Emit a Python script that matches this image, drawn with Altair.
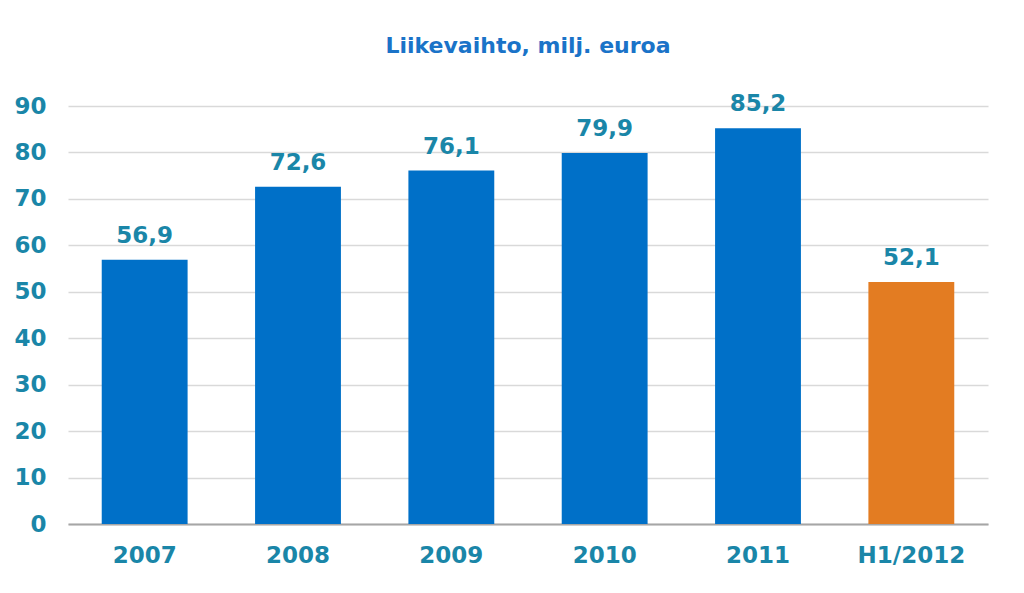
import altair as alt
import pandas as pd

categories = ["2007", "2008", "2009", "2010", "2011", "H1/2012"]
values = [56.9, 72.6, 76.1, 79.9, 85.2, 52.1]
labels = ["56,9", "72,6", "76,1", "79,9", "85,2", "52,1"]
colors = ["#0070c8", "#0070c8", "#0070c8", "#0070c8", "#0070c8", "#e37c22"]

df = pd.DataFrame({"cat": categories, "value": values, "label": labels, "color": colors})

FONT = "DejaVu Sans"
TEAL = "#1a86a8"

x = alt.X("cat:N", sort=categories,
          scale=alt.Scale(paddingInner=0.44, paddingOuter=0.22),
          axis=alt.Axis(title=None, labelAngle=0, labelFont=FONT, labelFontSize=23,
                        labelFontWeight="bold", labelColor=TEAL, labelPadding=20,
                        ticks=False, domainColor="#a6a6a6", domainWidth=2, grid=False))
y = alt.Y("value:Q", scale=alt.Scale(domain=[0, 90], nice=False),
          axis=alt.Axis(title=None, values=list(range(0, 100, 10)), labelFont=FONT,
                        labelFontSize=23, labelFontWeight="bold", labelColor=TEAL,
                        labelPadding=22, ticks=False, domain=False,
                        gridColor="#d9d9d9", gridWidth=1.5))

bars = alt.Chart(df).mark_bar().encode(x=x, y=y, color=alt.Color("color:N", scale=None))
text = alt.Chart(df).mark_text(baseline="bottom", dy=-12, font=FONT, fontSize=23,
                               fontWeight="bold", color=TEAL).encode(x=x, y=y, text="label:N")

chart = (bars + text).properties(
    width=920, height=418,
    title=alt.TitleParams("Liikevaihto, milj. euroa", font=FONT, fontSize=22,
                          fontWeight="bold", color="#1a73c8", anchor="middle", offset=35),
    padding={"left": 68, "top": 106, "right": 36, "bottom": 69},
    autosize=alt.AutoSizeParams(type="none"),
).configure_view(stroke=None)

chart.save("out.html", embed_options={"renderer": "svg", "actions": False})
